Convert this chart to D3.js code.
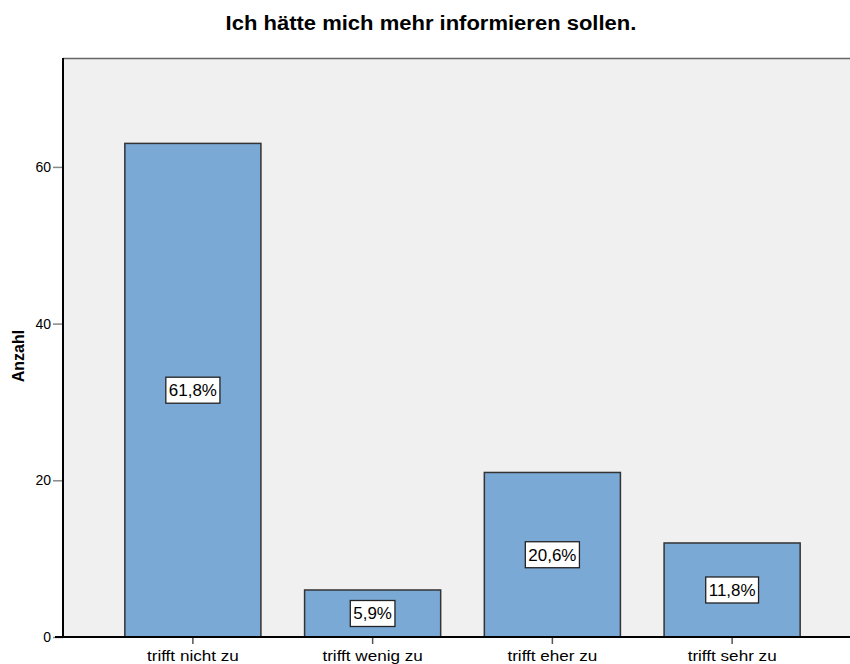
<!DOCTYPE html>
<html>
<head>
<meta charset="utf-8">
<script src="https://cdn.jsdelivr.net/npm/d3@7"></script>
<style>
  body { margin: 0; background: #fff; }
  text { font-family: "Liberation Sans", Arial, sans-serif; }
</style>
</head>
<body>
<div id="vis"></div>
<script>
var categories = ["trifft nicht zu", "trifft wenig zu", "trifft eher zu", "trifft sehr zu"];
var counts = [63, 6, 21, 12];
var percentLabels = ["61,8%", "5,9%", "20,6%", "11,8%"];
var yTicks = [0, 20, 40, 60];

var width = 850,
    height = 664;

var svg = d3.select("#vis").append("svg")
    .attr("width", width)
    .attr("height", height);

var plotLeft = 63, plotTop = 58, plotBottom = 637, plotRight = 850;

// stretch text a bit wider, the original rendering is wide
function stretch(sel, factor) {
  sel.each(function() {
    var len = this.getComputedTextLength();
    d3.select(this)
      .attr("textLength", len * factor)
      .attr("lengthAdjust", "spacingAndGlyphs");
  });
}

// plot background
svg.append("rect")
    .attr("x", plotLeft)
    .attr("y", plotTop)
    .attr("width", plotRight - plotLeft)
    .attr("height", plotBottom - plotTop)
    .attr("fill", "#f0f0f0");

svg.append("line")
    .attr("x1", plotLeft).attr("x2", plotRight)
    .attr("y1", plotTop + 0.5).attr("y2", plotTop + 0.5)
    .attr("stroke", "#666").attr("stroke-width", 1.5);

var y = d3.scaleLinear()
    .domain([0, 73.9])
    .range([plotBottom, plotTop]);

var x = d3.scaleBand()
    .domain(categories)
    .range([103, 822])
    .paddingInner(0.243)
    .paddingOuter(0.1215);

// bars
svg.append("g")
    .selectAll("rect")
    .data(counts)
    .enter().append("rect")
      .attr("x", function(d, i) { return x(categories[i]); })
      .attr("y", function(d) { return y(d); })
      .attr("width", x.bandwidth())
      .attr("height", function(d) { return plotBottom - y(d); })
      .attr("fill", "#7ba9d5")
      .attr("stroke", "#333")
      .attr("stroke-width", 1.5);

// percentage labels
var labels = svg.append("g")
    .selectAll("g")
    .data(counts)
    .enter().append("g")
      .attr("transform", function(d, i) {
        return "translate(" + (x(categories[i]) + x.bandwidth() / 2) + "," + y(d / 2) + ")";
      });

labels.append("text")
    .attr("text-anchor", "middle")
    .attr("dy", "0.37em")
    .style("font-size", "16px")
    .attr("fill", "#000")
    .text(function(d, i) { return percentLabels[i]; })
    .call(stretch, 1.06)
    .each(function() {
      var w = +d3.select(this).attr("textLength");
      d3.select(this.parentNode).insert("rect", "text")
        .attr("x", -w / 2 - 3)
        .attr("y", -13)
        .attr("width", w + 6)
        .attr("height", 26)
        .attr("fill", "#fff")
        .attr("stroke", "#222")
        .attr("stroke-width", 1.3);
    });

// y axis
var yAxis = svg.append("g")
    .attr("transform", "translate(" + plotLeft + ",0)")
    .call(d3.axisLeft(y).tickValues(yTicks).tickSize(10).tickPadding(2));
yAxis.select(".domain").remove();
yAxis.selectAll(".tick line").attr("stroke", "#888").attr("stroke-width", 1.5);
yAxis.selectAll(".tick text")
    .style("font-family", "'Liberation Sans', Arial, sans-serif")
    .style("font-size", "14px").attr("fill", "#000");

svg.append("line")
    .attr("x1", plotLeft).attr("x2", plotLeft)
    .attr("y1", plotTop).attr("y2", plotBottom + 1)
    .attr("stroke", "#000").attr("stroke-width", 2);

// x axis
var xAxis = svg.append("g")
    .attr("transform", "translate(0," + plotBottom + ")")
    .call(d3.axisBottom(x).tickSize(7).tickPadding(6));
xAxis.select(".domain").remove();
xAxis.selectAll(".tick line").attr("stroke", "#555").attr("stroke-width", 1.5);
xAxis.selectAll(".tick text")
    .style("font-family", "'Liberation Sans', Arial, sans-serif")
    .style("font-size", "15px").attr("fill", "#000")
    .call(stretch, 1.14);

svg.append("line")
    .attr("x1", 55).attr("x2", plotRight)
    .attr("y1", plotBottom).attr("y2", plotBottom)
    .attr("stroke", "#000").attr("stroke-width", 2);

// y title
svg.append("text")
    .attr("transform", "translate(24,356) rotate(-90)")
    .attr("text-anchor", "middle")
    .style("font-size", "16px")
    .style("font-weight", "bold")
    .text("Anzahl");

// title
svg.append("text")
    .attr("x", 431)
    .attr("y", 30)
    .attr("text-anchor", "middle")
    .style("font-size", "20px")
    .style("font-weight", "bold")
    .text("Ich hätte mich mehr informieren sollen.")
    .call(stretch, 1.1);
</script>
</body>
</html>
